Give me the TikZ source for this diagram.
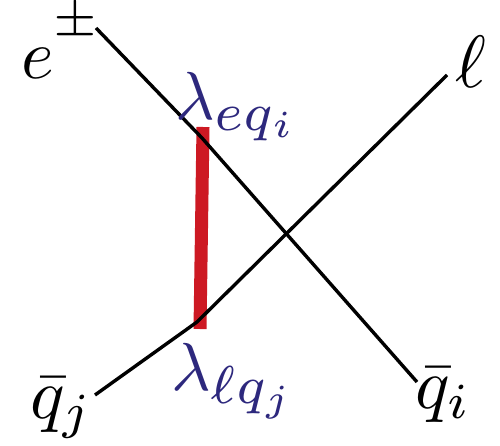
\documentclass[tikz,border=0pt]{standalone}
\usepackage{graphicx}
\definecolor{lamblue}{RGB}{45,40,125}
\definecolor{propred}{RGB}{205,25,35}
\begin{document}
\begin{tikzpicture}[x=1pt,y=-1pt,
  fermion/.style={line width=3.4pt,black},
  prop/.style={line width=13pt,propred},
  lbl/.style={inner sep=0pt,anchor=base west},
  coup/.style={inner sep=0pt,anchor=base west,text=lamblue}]
\useasboundingbox (0,0) rectangle (500,446);
% vertices and ends
\coordinate (v1) at (202,138);
\coordinate (v2) at (197,322);
\coordinate (eEnd) at (96,28);
\coordinate (qiEnd) at (417,382);
\coordinate (qjEnd) at (95,395);
\coordinate (lEnd) at (447,75);
\coordinate (r1) at (203,127);
\coordinate (r2) at (200,329);
% propagator
\draw[prop] (r1) -- (r2);
% fermion lines
\draw[fermion] (eEnd) -- (v1) -- (qiEnd);
\draw[fermion] (qjEnd) -- (v2) -- (lEnd);
% external labels
\node[lbl] (le) at (21,79) {\scalebox{7}{$e^{\raisebox{2.7pt}{$\scriptstyle\pm$}}$}};
\node[lbl] (ll) at (455,88) {\scalebox{7.4}{$\ell$}};
\node[lbl] (lqi) at (415,408) {\scalebox{7.2}{$\bar q_i$}};
\node[lbl] (lqj) at (30,418) {\scalebox{7.2}{$\bar q_j$}};
% couplings
\node[coup] (c1) at (175,120) {\scalebox{6.8}{$\lambda_{\scalebox{1.12}{$\scriptstyle eq_i$}}$}};
\node[coup] (c2) at (171,390) {\scalebox{6.8}{$\lambda_{\scalebox{1.12}{$\scriptstyle \ell q_j$}}$}};
\end{tikzpicture}
\end{document}
